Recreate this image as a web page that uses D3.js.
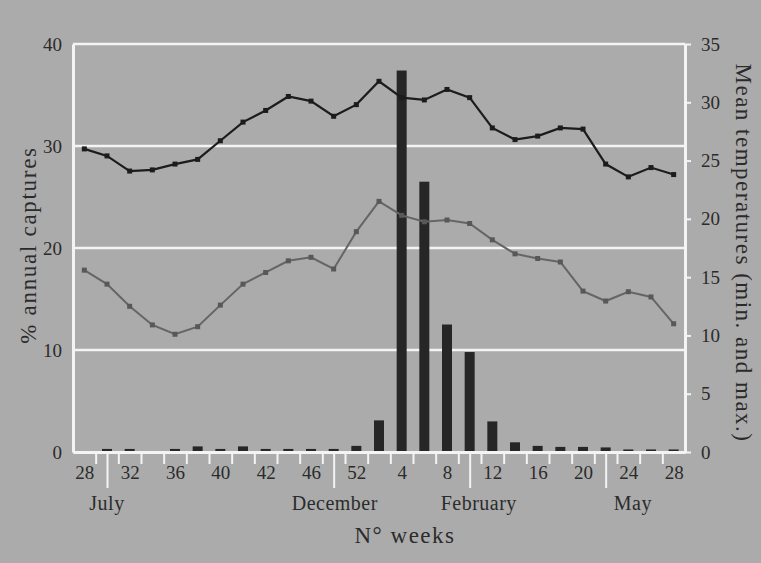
<!DOCTYPE html>
<html>
<head>
<meta charset="utf-8">
<script src="https://cdn.jsdelivr.net/npm/d3@7"></script>
<style>
  body { margin: 0; background: #ababab; }
  svg { display: block; }
  text { font-family: "Liberation Serif", "Times New Roman", serif; fill: #2b2b2b; }
</style>
</head>
<body>
<svg id="chart" width="761" height="563"></svg>
<script>
// two-week bins, week 28 to week 28 of the next year
const weekLabels = ["28", "32", "36", "40", "42", "46", "52", "4", "8", "12", "16", "20", "24", "28"];
const months = ["July", "December", "February", "May"];
const monthPos = [1, 11.05, 17.4, 24.2];
const monthTicks = [1, 11, 17, 23];

// % annual captures (bars, left axis)
const captures = [0, 0.3, 0.3, 0, 0.3, 0.55, 0.3, 0.55, 0.3, 0.3, 0.3, 0.3, 0.6,
  3.1, 37.4, 26.5, 12.5, 9.8, 3.0, 0.95, 0.6, 0.5, 0.5, 0.45, 0.25, 0.25, 0.25];
// mean temperatures (right axis)
const tMax = [26.0, 25.4, 24.1, 24.2, 24.7, 25.1, 26.7, 28.3, 29.3, 30.5, 30.1, 28.8, 29.8,
  31.8, 30.4, 30.2, 31.1, 30.4, 27.8, 26.8, 27.1, 27.8, 27.7, 24.7, 23.6, 24.4, 23.8];
const tMin = [15.6, 14.4, 12.5, 10.9, 10.1, 10.75, 12.6, 14.4, 15.4, 16.4, 16.7, 15.7, 18.9,
  21.5, 20.3, 19.75, 19.9, 19.6, 18.2, 17.0, 16.6, 16.3, 13.8, 12.95, 13.75, 13.3, 11.0];

const svg = d3.select("#chart");
const x0 = 73, x1 = 685, yTop = 44, yBot = 452;

const x = d3.scaleLinear().domain([-0.5, captures.length - 0.5]).range([x0, x1]);
const yL = d3.scaleLinear().domain([0, 40]).range([yBot, yTop]);
const yR = d3.scaleLinear().domain([0, 35]).range([yBot, yTop]);

// white grid lines
svg.append("g")
  .selectAll("line")
  .data([10, 20, 30, 40])
  .enter().append("line")
  .attr("x1", x0).attr("x2", x1)
  .attr("y1", d => yL(d)).attr("y2", d => yL(d))
  .attr("stroke", "#f4f4f4")
  .attr("stroke-width", 2.5);

// bars
svg.append("g")
  .selectAll("rect")
  .data(captures)
  .enter().append("rect")
  .attr("x", (d, i) => x(i) - 5)
  .attr("y", d => yL(d))
  .attr("width", 10)
  .attr("height", d => yBot - yL(d))
  .attr("fill", "#262626");

function series(data, lineColor, dotColor, w) {
  const line = d3.line().x((d, i) => x(i)).y(d => yR(d));
  svg.append("path")
    .datum(data)
    .attr("d", line)
    .attr("fill", "none")
    .attr("stroke", lineColor)
    .attr("stroke-width", w);
  svg.append("g")
    .selectAll("rect")
    .data(data)
    .enter().append("rect")
    .attr("x", (d, i) => x(i) - 2.5)
    .attr("y", d => yR(d) - 2.5)
    .attr("width", 5)
    .attr("height", 5)
    .attr("fill", dotColor);
}
series(tMin, "#656565", "#585858", 2);
series(tMax, "#1c1c1c", "#1c1c1c", 2.2);

function whiteAxis(g) {
  g.selectAll(".domain").attr("stroke", "#f4f4f4").attr("stroke-width", 3);
  g.selectAll(".tick line").attr("stroke", "#f4f4f4").attr("stroke-width", 2);
  g.selectAll(".tick text").attr("fill", "#2b2b2b");
  g.attr("font-family", null);
}

// left axis
svg.append("g")
  .attr("transform", "translate(" + x0 + ",0)")
  .call(d3.axisLeft(yL).tickValues([0, 10, 20, 30, 40]).tickSize(0).tickPadding(11).tickSizeOuter(0))
  .attr("font-size", 19)
  .call(whiteAxis);

// right axis
svg.append("g")
  .attr("transform", "translate(" + x1 + ",0)")
  .call(d3.axisRight(yR).tickValues(d3.range(0, 36, 5)).tickSize(6).tickPadding(10).tickSizeOuter(0))
  .attr("font-size", 19)
  .call(whiteAxis);

// bottom axis: bin boundaries, month separators, week labels
const bounds = d3.range(0.5, captures.length - 1, 1);
svg.append("g")
  .attr("transform", "translate(0," + yBot + ")")
  .call(d3.axisBottom(x).tickValues(bounds).tickFormat("").tickSize(12).tickSizeOuter(0))
  .call(whiteAxis);
svg.append("g")
  .attr("transform", "translate(0," + yBot + ")")
  .call(d3.axisBottom(x).tickValues(monthTicks).tickFormat("").tickSize(36).tickSizeOuter(0))
  .call(whiteAxis);
svg.append("g")
  .attr("transform", "translate(0," + yBot + ")")
  .call(d3.axisBottom(x).tickValues(d3.range(0, captures.length, 2))
    .tickFormat((d, i) => weekLabels[i]).tickSize(0).tickPadding(14).tickSizeOuter(0))
  .attr("font-size", 19)
  .call(whiteAxis)
  .call(g => g.select(".domain").remove());

svg.append("g")
  .selectAll("text")
  .data(months)
  .enter().append("text")
  .attr("x", (d, i) => x(monthPos[i]))
  .attr("y", 510)
  .attr("text-anchor", "middle")
  .attr("font-size", 20)
  .attr("letter-spacing", 0.5)
  .text(d => d);

svg.append("text")
  .attr("x", 405).attr("y", 543)
  .attr("text-anchor", "middle")
  .attr("font-size", 23)
  .attr("letter-spacing", 1.5)
  .text("N° weeks");

svg.append("text")
  .attr("transform", "translate(36,245) rotate(-90)")
  .attr("text-anchor", "middle")
  .attr("font-size", 23)
  .attr("letter-spacing", 1.7)
  .text("% annual captures");

svg.append("text")
  .attr("transform", "translate(736,253) rotate(90)")
  .attr("text-anchor", "middle")
  .attr("font-size", 23)
  .attr("letter-spacing", 1.5)
  .text("Mean temperatures (min. and max.)");
</script>
</body>
</html>
